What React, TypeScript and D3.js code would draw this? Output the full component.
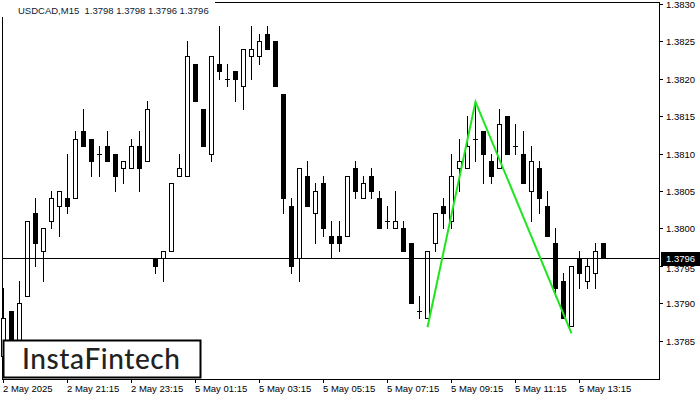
import React from "react";
import * as d3 from "d3";

const opens = [
  1.3783, 1.3789, 1.3784, 1.3791, 1.3802, 1.3797, 1.3801, 1.3803, 1.3804, 1.3804,
  1.3813, 1.3812, 1.381, 1.3811, 1.381, 1.3808, 1.3808, 1.3811, 1.3809, 1.3796,
  1.3796, 1.3797, 1.3807, 1.3807, 1.3822, 1.3816, 1.381, 1.3822, 1.382, 1.3821,
  1.3819, 1.3823, 1.3823, 1.3826, 1.3825, 1.3818, 1.3803, 1.3796, 1.3807, 1.3802,
  1.3806, 1.3799, 1.3799, 1.3799, 1.3808, 1.3804, 1.3807, 1.3804, 1.3801, 1.38,
  1.38, 1.3798, 1.3789, 1.3788, 1.3798, 1.3803, 1.3801, 1.3808, 1.3808, 1.3812,
  1.3813, 1.3809, 1.3808, 1.3815, 1.3811, 1.381, 1.3805, 1.3808, 1.3803, 1.3798,
  1.3793, 1.3787, 1.3796, 1.3793, 1.3794, 1.3798,
];
const highs = [
  1.3792, 1.3789, 1.3793, 1.3801, 1.3804, 1.38, 1.3805, 1.3805, 1.381, 1.3813,
  1.3816, 1.3812, 1.3811, 1.3813, 1.381, 1.3809, 1.3812, 1.3813, 1.3817, 1.3796,
  1.3797, 1.3806, 1.381, 1.3825, 1.3822, 1.3816, 1.3823, 1.3827, 1.3822, 1.3821,
  1.3824, 1.3827, 1.3826, 1.3827, 1.3825, 1.3818, 1.3804, 1.3808, 1.3809, 1.3806,
  1.3807, 1.3801, 1.3801, 1.3807, 1.3809, 1.3807, 1.3808, 1.3805, 1.3803, 1.3805,
  1.3801, 1.3798, 1.3791, 1.3797, 1.3802, 1.3804, 1.381, 1.3812, 1.3815, 1.38167,
  1.3813, 1.381, 1.3816, 1.3815, 1.3814, 1.3813, 1.3811, 1.3809, 1.3805, 1.38,
  1.3794, 1.3795, 1.3797, 1.3796, 1.3798, 1.3798,
];
const lows = [
  1.3782, 1.3783, 1.3783, 1.3791, 1.3795, 1.3793, 1.38, 1.3799, 1.3802, 1.3804,
  1.3811, 1.3807, 1.3807, 1.3809, 1.3805, 1.3806, 1.3808, 1.3805, 1.3809, 1.3794,
  1.3793, 1.3797, 1.3807, 1.3807, 1.3817, 1.3811, 1.3809, 1.382, 1.3819, 1.3817,
  1.3816, 1.382, 1.3822, 1.3824, 1.3819, 1.3802, 1.3794, 1.3793, 1.3803, 1.3798,
  1.3799, 1.3796, 1.3797, 1.3799, 1.3804, 1.3804, 1.3804, 1.38, 1.38, 1.38,
  1.3797, 1.379, 1.3788, 1.3788, 1.3797, 1.38, 1.38, 1.3805, 1.3808, 1.3809,
  1.3806, 1.3806, 1.3808, 1.381, 1.381, 1.3806, 1.3801, 1.3802, 1.3799, 1.3791,
  1.3788, 1.3787, 1.3792, 1.3792, 1.3792, 1.3796,
];
const closes = [
  1.3788, 1.3784, 1.379, 1.3801, 1.3798, 1.38, 1.3804, 1.3805, 1.3803, 1.3812,
  1.3811, 1.3809, 1.381, 1.3809, 1.3807, 1.3809, 1.3811, 1.3808, 1.3816, 1.3795,
  1.3797, 1.3806, 1.3808, 1.3823, 1.3817, 1.3811, 1.3823, 1.3821, 1.382, 1.382,
  1.3824, 1.3824, 1.3825, 1.3824, 1.3819, 1.3804, 1.3795, 1.3808, 1.3803, 1.3805,
  1.38, 1.3798, 1.3798, 1.3807, 1.3805, 1.3806, 1.3805, 1.38, 1.3801, 1.3801,
  1.3797, 1.379, 1.3789, 1.3797, 1.3802, 1.3802, 1.3807, 1.3809, 1.3811, 1.3812,
  1.381, 1.3807, 1.3814, 1.381, 1.3811, 1.3806, 1.3809, 1.3804, 1.3799, 1.3792,
  1.3788, 1.3795, 1.3794, 1.3795, 1.3797, 1.3796,
];

const timeLabels = [
  "2 May 2025", "2 May 21:15", "2 May 23:15", "5 May 01:15", "5 May 03:15",
  "5 May 05:15", "5 May 07:15", "5 May 09:15", "5 May 11:15", "5 May 13:15",
];
const timeLabelIdx = [0, 8, 16, 24, 32, 40, 48, 56, 64, 72];
const priceTicks = [1.383, 1.3825, 1.382, 1.3815, 1.381, 1.3805, 1.38, 1.3795, 1.379, 1.3785];
const patternIdx = [53, 59, 71];
const patternPrice = [1.37868, 1.38169, 1.3786];
const currentPrice = 1.3796;
const titleText = "USDCAD,M15  1.3798 1.3798 1.3796 1.3796";
const logoText = "InstaFintech";

const FONT = "'Liberation Sans', Arial, sans-serif";

export default function App() {
  const x = d3.scaleLinear().domain([0, 75]).range([3, 603]);
  const y = d3.scaleLinear().domain([1.3785, 1.383]).range([340.75, 3.7]);
  const ry = (p: number) => Math.round(y(p));

  const candles = opens.map((o, i) => {
    const c = closes[i];
    const h = highs[i];
    const l = lows[i];
    const cx = Math.round(x(i));
    const top = ry(Math.max(o, c));
    const bot = ry(Math.min(o, c));
    const yh = ry(h);
    const yl = ry(l);
    let body;
    if (c > o) {
      body = (
        <rect x={cx - 1.5} y={top + 0.5} width={4} height={Math.max(bot - top, 1)} fill="#fff" stroke="#000" strokeWidth={1} />
      );
    } else if (c < o) {
      body = <rect x={cx - 2} y={top} width={5} height={bot - top + 1} fill="#000" />;
    } else {
      body = <rect x={cx - 2} y={top} width={5} height={1} fill="#000" />;
    }
    return (
      <g key={i}>
        <rect x={cx} y={yh} width={1} height={yl - yh + 1} fill="#000" />
        {body}
      </g>
    );
  });

  const line = d3
    .line<number>()
    .x((_, k) => x(patternIdx[k]) + 0.5)
    .y((p) => y(p));

  const cy = y(currentPrice);

  return (
    <svg width={700} height={400} style={{ position: "absolute", left: 0, top: 0, background: "#fff" }}>
      <rect x={0} y={0} width={700} height={400} fill="#fff" />
      <rect x={2.5} y={2.5} width={657} height={377} fill="none" stroke="#000" strokeWidth={1} />
      {candles}
      <line x1={2.5} x2={660} y1={Math.round(cy) + 0.5} y2={Math.round(cy) + 0.5} stroke="#000" strokeWidth={1} />
      <path d={line(patternPrice) || ""} fill="none" stroke="#1ee61e" strokeWidth={2} />

      {priceTicks.map((p) => {
        const ty = Math.round(y(p)) + 0.5;
        const hidden = Math.abs(p - currentPrice) < 0.0003;
        return (
          <g key={p}>
            <line x1={659} x2={663} y1={ty} y2={ty} stroke="#000" />
            <text x={666} y={ty + (hidden ? 5 : 3.5)} fontSize={9.5} fontFamily={FONT} fill="#000">
              {p.toFixed(4)}
            </text>
          </g>
        );
      })}
      <rect x={661} y={Math.round(cy) - 6} width={39} height={14} fill="#000" />
      <text x={666} y={Math.round(cy) + 4} fontSize={9.5} fontFamily={FONT} fill="#fff">
        {currentPrice.toFixed(4)}
      </text>

      {timeLabelIdx.map((idx, k) => {
        const tx = Math.round(x(idx));
        return (
          <g key={idx}>
            <line x1={tx + 0.5} x2={tx + 0.5} y1={379} y2={383} stroke="#000" />
            <text x={tx} y={392} fontSize={9.5} fontFamily={FONT} fill="#000">
              {timeLabels[k]}
            </text>
          </g>
        );
      })}

      <rect x={0} y={0} width={215} height={17} fill="#fff" />
      <text x={18} y={14} fontSize={9.5} fontFamily={FONT} fill="#0b1a33" style={{ whiteSpace: "pre" }}>
        {titleText}
      </text>

      <rect x={3.5} y={340.5} width={197} height={37} fill="#fff" stroke="#000" strokeWidth={2} />
      <text x={22} y={369} fontSize={28} letterSpacing={0.6} fontFamily="Lato, 'Open Sans', sans-serif" fontWeight={500} fill="#222">
        {logoText}
      </text>
    </svg>
  );
}
